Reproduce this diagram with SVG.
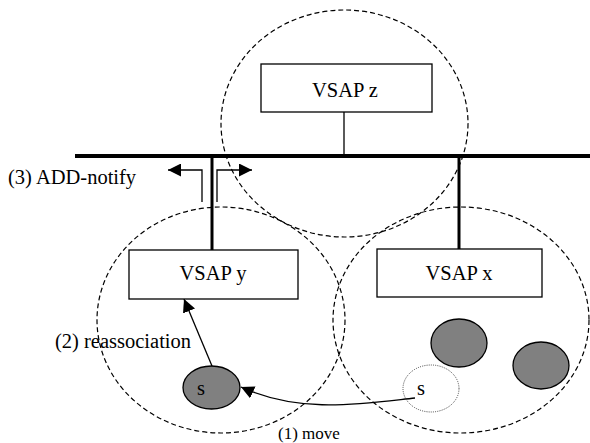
<svg xmlns="http://www.w3.org/2000/svg" width="590" height="443" viewBox="0 0 590 443">
  <style>
    text { font-family: "Liberation Serif", "Times New Roman", serif; fill: #000; }
    .lbl { font-size: 20.5px; }
    .small { font-size: 17px; }
    .mid { text-anchor: middle; }
    .cell { fill: none; stroke: #000; stroke-width: 1.2; stroke-dasharray: 5 3; }
    .box { fill: #fff; stroke: #000; stroke-width: 1.3; }
    .bus { stroke: #000; stroke-width: 4; }
    .drop { stroke: #000; stroke-width: 3; }
    .thin { fill: none; stroke: #000; stroke-width: 1.3; }
    .sta { fill: #808080; stroke: #000; stroke-width: 1.3; }
    .ghost { fill: none; stroke: #444; stroke-width: 1; stroke-dasharray: 1 1.2; }
  </style>
  <defs>
    <marker id="tri" viewBox="0 0 10 10" refX="10" refY="5" markerWidth="13" markerHeight="13" markerUnits="userSpaceOnUse" orient="auto">
      <path d="M0,0 L10,5 L0,10 Z" fill="#000"/>
    </marker>
  </defs>

  <!-- coverage areas -->
  <g id="cells">
    <ellipse class="cell" cx="344.5" cy="123.5" rx="123.5" ry="113.5"/>
    <ellipse class="cell" cx="221" cy="320" rx="124" ry="113"/>
    <ellipse class="cell" cx="461" cy="320" rx="128" ry="113"/>
  </g>

  <!-- backbone and drops -->
  <g id="connectors">
    <line class="bus" x1="75" y1="156" x2="590" y2="156"/>
    <line class="thin" x1="344" y1="112" x2="344" y2="156"/>
    <line class="drop" x1="212" y1="156" x2="212" y2="250"/>
    <line class="drop" x1="459" y1="156" x2="459" y2="249"/>
    <!-- (3) ADD-notify -->
    <path class="thin" d="M202,202 V170 H168" marker-end="url(#tri)"/>
    <path class="thin" d="M217,202 V170 H252" marker-end="url(#tri)"/>
    <!-- (2) reassociation -->
    <line class="thin" x1="212" y1="366" x2="184" y2="299" marker-end="url(#tri)"/>
    <!-- (1) move -->
    <path class="thin" d="M415,398 C360,404 300,414 241,387" marker-end="url(#tri)"/>
  </g>

  <g id="vsap-z">
    <rect class="box" x="261" y="64" width="171" height="48"/>
    <text class="lbl mid" x="345" y="97">VSAP z</text>
  </g>
  <g id="vsap-y">
    <rect class="box" x="129" y="250" width="169" height="49"/>
    <text class="lbl mid" x="213" y="280">VSAP y</text>
  </g>
  <g id="vsap-x">
    <rect class="box" x="377" y="249" width="165" height="48"/>
    <text class="lbl mid" x="459" y="280">VSAP x</text>
  </g>

  <g id="station-new">
    <ellipse class="sta" cx="211.5" cy="387.5" rx="28.5" ry="21.5"/>
    <text class="lbl mid" x="201" y="395">s</text>
  </g>
  <g id="station-old">
    <ellipse class="ghost" cx="431" cy="388.5" rx="28" ry="23.5"/>
    <text class="lbl mid" x="421" y="395">s</text>
  </g>
  <g id="station-a">
    <ellipse class="sta" cx="459" cy="343" rx="28" ry="24"/>
  </g>
  <g id="station-b">
    <ellipse class="sta" cx="541" cy="365.5" rx="28" ry="23.5"/>
  </g>

  <g id="labels">
    <text class="lbl" x="8" y="184">(3) ADD-notify</text>
    <text class="lbl" x="55" y="348">(2) reassociation</text>
    <text class="small" x="278" y="439">(1) move</text>
  </g>
</svg>
